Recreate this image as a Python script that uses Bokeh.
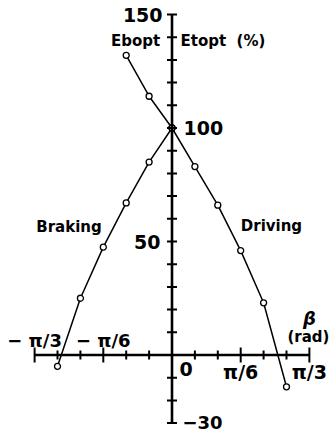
import numpy as np
from bokeh.plotting import figure
from bokeh.core.properties import value
from bokeh.embed import file_html
from bokeh.resources import INLINE

# Angle beta in degrees and efficiency in percent
beta_braking = [-50, -40, -30, -20, -10, 0]
eff_braking = [-5, 25, 47.5, 67, 85, 100]

beta_driving = [-20, -10, 0, 10, 20, 30, 40, 50]
eff_driving = [132, 114, 100, 83, 66, 46, 23, -14]

# Axis ticks
y_ticks = [-30, -20, -10, 10, 20, 30, 40, 50, 60, 70, 80, 90, 100, 110, 120, 130, 140, 150]
x_minor_steps = [-5, -4, -2, -1, 1, 2, 4, 5]      # multiples of pi/18
x_major_steps = [-6, -3, 3, 6]

FONT = value("DejaVu Sans")

p = figure(width=330, height=434, x_range=(-1.3072, 1.2081), y_range=(-35.02, 156.17),
           x_axis_type=None, y_axis_type=None, min_border=0,
           outline_line_color=None, toolbar_location=None, output_backend="svg")
p.grid.visible = False
p.background_fill_color = "white"

x_minor = np.pi * np.array(x_minor_steps) / 18
x_major = np.pi * np.array(x_major_steps) / 18

# Curves with open circle markers
p.line(np.deg2rad(beta_braking), eff_braking, line_color="black", line_width=1.5)
p.line(np.deg2rad(beta_driving), eff_driving, line_color="black", line_width=1.5)
p.scatter(np.deg2rad(beta_braking), eff_braking, marker="circle", size=6,
          fill_color="white", line_color="black", line_width=1.3)
p.scatter(np.deg2rad(beta_driving), eff_driving, marker="circle", size=6,
          fill_color="white", line_color="black", line_width=1.3)

# Crossing axes
p.segment(x0=[0, -np.pi / 3], y0=[-30, 0], x1=[0, np.pi / 3], y1=[150, 0],
          line_color="black", line_width=2.6)
p.scatter([0] * len(y_ticks), y_ticks, marker="dash", size=10,
          line_color="black", line_width=2)
p.scatter(x_minor, [0] * len(x_minor), marker="dash", angle=np.pi / 2, size=9,
          line_color="black", line_width=2)
p.scatter(x_major, [0] * len(x_major), marker="dash", angle=np.pi / 2, size=15,
          line_color="black", line_width=2)

def label(x, y, txt, align="center", size="18px", style="bold"):
    p.text([x], [y], text=[txt], text_font=FONT, text_font_size=size,
           text_font_style=style, text_align=align, text_baseline="middle",
           text_color="black")

# Efficiency axis labels
label(-0.072, 150, "150", align="right", size="19px")
label(0.088, 100, "100", align="left", size="19px")
label(-0.088, 50, "50", align="right", size="19px")
label(0.080, -29.7, "−30", align="left", size="18px")
label(0.057, -6.2, "0", align="left", size="19px")
label(-0.278, 138.5, "Ebopt", size="15px")
label(0.065, 138.5, "Etopt\u00a0\u00a0(%)", align="left", size="15px")

# Angle axis labels
label(-np.pi / 3, 6.4, "− π/3")
label(-np.pi / 6, 6.4, "− π/6")
label(np.pi / 6, -7.7, "π/6", size="19px")
label(np.pi / 3, -7.3, "π/3", size="19px")
label(1.048, 16.1, "β", style="bold italic")
label(1.040, 7.9, "(rad)", size="15px")

label(-0.785, 56.6, "Braking", size="15px")
label(0.758, 57.0, "Driving", size="15px")

open("out.html", "w").write(file_html(p, INLINE))
